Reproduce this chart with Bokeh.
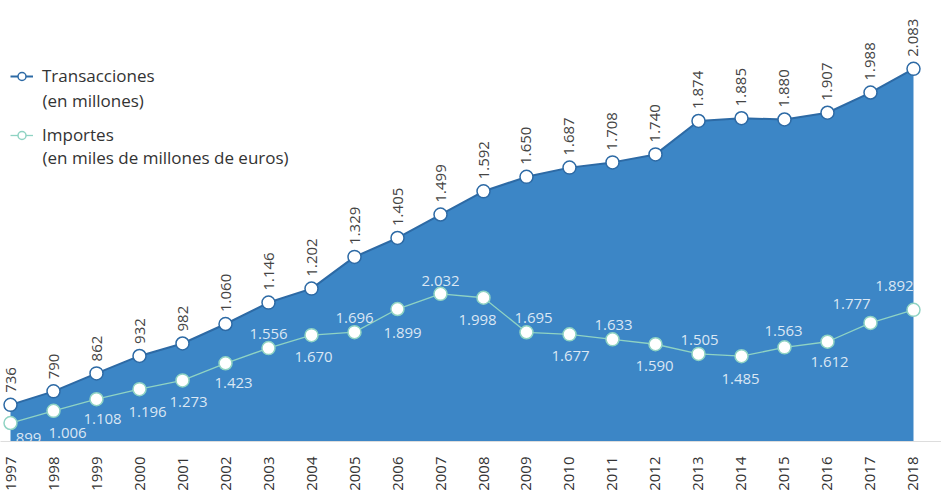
import math
from bokeh.plotting import figure
from bokeh.models import Range1d, FixedTicker, Legend, LegendItem, Label
from bokeh.core.properties import value
from bokeh.embed import file_html
from bokeh.resources import INLINE

# ---- data ----
years = list(range(1997, 2019))
transacciones = [736, 790, 862, 932, 982, 1060, 1146, 1202, 1329, 1405, 1499,
                 1592, 1650, 1687, 1708, 1740, 1874, 1885, 1880, 1907, 1988, 2083]
importes = [899, 1006, 1108, 1196, 1273, 1423, 1556, 1670, 1696, 1899, 2032,
            1998, 1695, 1677, 1633, 1590, 1505, 1485, 1563, 1612, 1777, 1892]
year_labels = [str(y) for y in years]

# ---- label placement (screen pixel offsets) ----
imp_dx = [18, 14, 6, 8, 6, 8, 0, 2, 0, 5, 0, -6, 7, 1, 1, -1, 1, -1, -1, 2, -19, -19]
imp_dy = [15, 22, 20, 23, 22, 20, -14, 22, -14, 24, -13, 22, -14, 22, -14, 22,
          -14, 23, -16, 20, -19, -24]


def fmt(v):
    return f"{v:,}".replace(",", ".")


FONT = "Open Sans"
AREA = "#3c86c6"
DARK = "#2d6aa5"
TEAL = "#8fd3c3"

p = figure(width=941, height=493, output_backend="svg", toolbar_location=None,
           x_range=Range1d(1996.7674, 2018.6512), y_range=Range1d(589, 2357),
           y_axis_location=None,
           min_border_left=0, min_border_right=0, min_border_top=0,
           min_border_bottom=52)
p.extra_y_ranges = {"imp": Range1d(737, 4605)}
p.outline_line_color = None
p.xgrid.visible = False
p.ygrid.visible = False
p.background_fill_color = "white"

ax = p.xaxis[0]
ax.ticker = FixedTicker(ticks=years)
ax.major_label_overrides = {y: s for y, s in zip(years, year_labels)}
ax.major_label_orientation = math.pi / 2
ax.major_label_standoff = 9
ax.axis_line_color = "#dddddd"
ax.major_tick_line_color = None
ax.minor_tick_line_color = None
ax.major_label_text_font = FONT
ax.major_label_text_font_size = "15px"
ax.major_label_text_color = "#333333"

p.varea(x=years, y1=0, y2=transacciones, fill_color=AREA)
t_line = p.line(years, transacciones, line_color=DARK, line_width=2)
i_line = p.line(years, importes, y_range_name="imp", line_color=TEAL, line_width=1.3)
i_pts = p.scatter(years, importes, y_range_name="imp", size=13, fill_color="white",
                  line_color=TEAL, line_width=1.5)
t_pts = p.scatter(years, transacciones, size=13, fill_color="white",
                  line_color=DARK, line_width=1.5)

p.text(x=years, y=transacciones, text=[fmt(v) for v in transacciones],
       angle=math.pi / 2, text_align="left", text_baseline="middle",
       y_offset=-12, text_font=value(FONT), text_font_size="15px",
       text_color="#444444")

p.text(x=years, y=importes, text=[fmt(v) for v in importes], y_range_name="imp",
       x_offset=imp_dx, y_offset=imp_dy, text_align="center",
       text_baseline="middle", text_font=value(FONT), text_font_size="15px",
       text_color="white", text_alpha=0.82)

legend = Legend(items=[LegendItem(label="Transacciones", renderers=[t_line, t_pts]),
                       LegendItem(label="Importes", renderers=[i_line, i_pts])],
                location=(10, 295), orientation="vertical", spacing=36,
                padding=0, margin=0, glyph_width=23, glyph_height=20,
                label_height=20, label_standoff=9, label_text_font=FONT,
                label_text_font_size="17px", label_text_color="#333333",
                border_line_alpha=0, background_fill_alpha=0)
p.add_layout(legend)

for txt, yy in [("(en millones)", 441 - 100), ("(en miles de millones de euros)", 441 - 157)]:
    p.add_layout(Label(x=42, y=yy, x_units="screen", y_units="screen", text=txt,
                       text_baseline="middle", text_font=FONT, text_font_size="17px",
                       text_color="#333333"))

open("out.html", "w").write(file_html(p, INLINE))
